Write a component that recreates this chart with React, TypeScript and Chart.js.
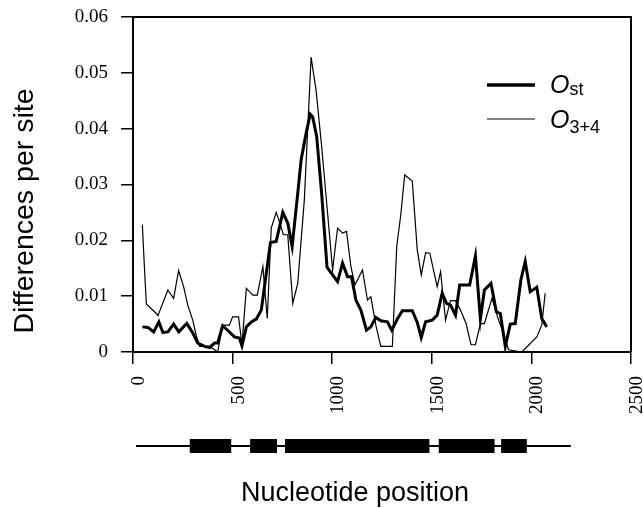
import React, { useEffect, useRef } from 'react';
import { Chart, registerables } from 'chart.js';

Chart.register(...registerables);

// O_st (thick line): nucleotide positions and differences per site
const ostPos = [47, 75, 104, 130, 150, 175, 204, 230, 270, 300, 325, 359, 384, 409, 425, 450, 475, 509, 534, 547, 569, 594, 619, 644, 660, 690, 719, 752, 777, 799, 827, 844, 869, 890, 902, 922, 947, 974, 1002, 1027, 1052, 1077, 1097, 1119, 1144, 1172, 1194, 1219, 1244, 1277, 1299, 1327, 1352, 1402, 1427, 1447, 1469, 1502, 1527, 1552, 1574, 1594, 1619, 1640, 1690, 1719, 1744, 1764, 1797, 1824, 1844, 1869, 1894, 1919, 1947, 1969, 1994, 2027, 2052, 2077];
const ostVal = [0.0045, 0.0044, 0.0036, 0.0054, 0.0035, 0.0036, 0.0050, 0.0036, 0.0051, 0.0034, 0.0016, 0.0010, 0.0008, 0.0016, 0.0016, 0.0047, 0.0039, 0.0027, 0.0025, 0.0011, 0.0045, 0.0054, 0.0059, 0.0075, 0.0117, 0.0196, 0.0198, 0.0250, 0.0231, 0.0189, 0.0284, 0.0344, 0.0392, 0.0426, 0.0421, 0.0386, 0.0284, 0.0152, 0.0138, 0.0126, 0.0159, 0.0135, 0.0135, 0.0093, 0.0075, 0.0039, 0.0045, 0.0062, 0.0056, 0.0054, 0.0039, 0.0059, 0.0074, 0.0074, 0.0053, 0.0026, 0.0054, 0.0057, 0.0066, 0.0105, 0.0087, 0.0084, 0.0066, 0.0120, 0.0120, 0.0172, 0.0059, 0.0111, 0.0123, 0.0072, 0.0069, 0.0010, 0.0050, 0.0051, 0.0129, 0.0162, 0.0108, 0.0116, 0.0060, 0.0045];

// O_3+4 (thin line)
const o34Pos = [47, 55, 67, 117, 125, 175, 204, 229, 254, 275, 300, 317, 335, 385, 410, 425, 450, 484, 500, 530, 547, 569, 602, 624, 652, 674, 694, 719, 735, 755, 777, 802, 827, 860, 880, 894, 919, 947, 977, 1002, 1027, 1052, 1072, 1094, 1114, 1152, 1177, 1194, 1219, 1244, 1302, 1324, 1344, 1364, 1402, 1427, 1447, 1469, 1490, 1527, 1544, 1569, 1594, 1619, 1644, 1672, 1697, 1719, 1744, 1764, 1802, 1835, 1860, 1885, 1952, 2027, 2052, 2069];
const o34Val = [0.0228, 0.0168, 0.0086, 0.0069, 0.0065, 0.0111, 0.0096, 0.0146, 0.0117, 0.0084, 0.0057, 0.0030, 0.0010, 0.0010, 0.0004, 0.0000, 0.0048, 0.0048, 0.0063, 0.0063, 0.0013, 0.0114, 0.0102, 0.0102, 0.0153, 0.0060, 0.0222, 0.0250, 0.0233, 0.0210, 0.0210, 0.0087, 0.0123, 0.0272, 0.0421, 0.0528, 0.0469, 0.0368, 0.0248, 0.0147, 0.0222, 0.0213, 0.0216, 0.0153, 0.0120, 0.0147, 0.0093, 0.0099, 0.0048, 0.0010, 0.0010, 0.0189, 0.0245, 0.0317, 0.0306, 0.0183, 0.0138, 0.0178, 0.0177, 0.0117, 0.0144, 0.0057, 0.0092, 0.0092, 0.0075, 0.0051, 0.0013, 0.0013, 0.0051, 0.0051, 0.0096, 0.0057, 0.0034, 0.0004, 0.0000, 0.0027, 0.0048, 0.0105];

// Gene structure (nucleotide coordinates)
const geneSpan = [15, 2198];
const exonStarts = [285, 588, 763, 1535, 1848];
const exonEnds = [493, 723, 1488, 1815, 1977];

// Axis ticks and texts
const xTicks = [0, 500, 1000, 1500, 2000, 2500];
const yTicks = [0, 0.01, 0.02, 0.03, 0.04, 0.05, 0.06];
const seriesNames = ['O', 'O'];
const seriesSubs = ['st', '3+4'];
const xTitle = 'Nucleotide position';
const yTitle = 'Differences per site';

const SANS = '"Liberation Sans", Arial, sans-serif';
const SERIF = '"Liberation Serif", "Times New Roman", serif';

const overlay = {
  id: 'overlay',
  afterDraw(chart: any) {
    const { ctx, chartArea: a } = chart;
    const x = chart.scales.x;
    ctx.save();
    // frame: top and right
    ctx.strokeStyle = '#000';
    ctx.lineWidth = 2;
    ctx.beginPath();
    ctx.moveTo(a.left, a.top);
    ctx.lineTo(a.right, a.top);
    ctx.lineTo(a.right, a.bottom);
    ctx.stroke();

    // gene diagram
    const gy = 446;
    ctx.lineWidth = 2;
    ctx.beginPath();
    ctx.moveTo(x.getPixelForValue(geneSpan[0]), gy);
    ctx.lineTo(x.getPixelForValue(geneSpan[1]), gy);
    ctx.stroke();
    ctx.fillStyle = '#000';
    exonStarts.forEach((s, i) => {
      const l = x.getPixelForValue(s);
      const r = x.getPixelForValue(exonEnds[i]);
      ctx.fillRect(l, 439, r - l, 14);
    });

    // axis titles
    ctx.fillStyle = '#000';
    ctx.font = `27px ${SANS}`;
    ctx.textAlign = 'center';
    ctx.textBaseline = 'alphabetic';
    ctx.fillText(xTitle, 355, 501);

    ctx.save();
    ctx.translate(33, 211);
    ctx.rotate(-Math.PI / 2);
    ctx.font = `28.5px ${SANS}`;
    ctx.fillText(yTitle, 0, 0);
    ctx.restore();

    // legend
    const rows = [85, 119];
    const widths = [3.5, 1.2];
    const baselines = [93, 128];
    rows.forEach((ry, i) => {
      ctx.strokeStyle = '#000';
      ctx.lineWidth = widths[i];
      ctx.beginPath();
      ctx.moveTo(487, ry);
      ctx.lineTo(535, ry);
      ctx.stroke();
      ctx.textAlign = 'left';
      ctx.fillStyle = '#000';
      ctx.font = `italic 25px ${SANS}`;
      ctx.fillText(seriesNames[i], 550, baselines[i]);
      const w = ctx.measureText(seriesNames[i]).width;
      ctx.font = `18px ${SANS}`;
      ctx.fillText(seriesSubs[i], 550 + w, baselines[i] + (i === 0 ? 2 : 5));
    });
    ctx.restore();
  },
};

export default function App() {
  const ref = useRef<HTMLCanvasElement | null>(null);
  useEffect(() => {
    if (!ref.current) return;
    const chart = new Chart(ref.current, {
      type: 'line',
      data: {
        datasets: [
          {
            label: 'Ost',
            data: ostPos.map((p, i) => ({ x: p, y: ostVal[i] })),
            borderColor: '#000',
            borderWidth: 3,
            pointRadius: 0,
            tension: 0,
          },
          {
            label: 'O3+4',
            data: o34Pos.map((p, i) => ({ x: p, y: o34Val[i] })),
            borderColor: '#000',
            borderWidth: 1.2,
            pointRadius: 0,
            tension: 0,
          },
        ],
      },
      options: {
        responsive: false,
        animation: false,
        layout: { padding: { top: 17, right: 12, left: 0, bottom: 0 } },
        plugins: { legend: { display: false }, tooltip: { enabled: false } },
        scales: {
          x: {
            type: 'linear',
            min: xTicks[0],
            max: xTicks[xTicks.length - 1],
            afterFit: (s: any) => {
              s.height = 156;
              s.paddingLeft = 0;
              s.paddingRight = 0;
            },
            afterBuildTicks: (s: any) => { s.ticks = xTicks.map((v) => ({ value: v })); },
            ticks: {
              minRotation: 90,
              maxRotation: 90,
              autoSkip: false,
              padding: 12,
              labelOffset: 6,
              color: '#000',
              font: { family: SERIF, size: 19 },
              callback: (v: any) => String(v),
            },
            grid: { drawOnChartArea: false, tickLength: 12, color: '#000', lineWidth: 1.5 },
            border: { color: '#000', width: 2 },
          },
          y: {
            min: yTicks[0],
            max: yTicks[yTicks.length - 1],
            afterFit: (s: any) => {
              s.width = 133;
              s.paddingTop = 0;
              s.paddingBottom = 0;
            },
            afterBuildTicks: (s: any) => { s.ticks = yTicks.map((v) => ({ value: v })); },
            ticks: {
              padding: 13,
              color: '#000',
              font: { family: SERIF, size: 19 },
              callback: (v: any) => (v === 0 ? '0' : Number(v).toFixed(2)),
            },
            grid: { drawOnChartArea: false, tickLength: 12, color: '#000', lineWidth: 1.5 },
            border: { color: '#000', width: 2 },
          },
        },
      },
      plugins: [overlay],
    });
    return () => chart.destroy();
  }, []);
  return (
    <div style={{ position: 'fixed', left: 0, top: 0, width: 643, height: 508, background: '#fff' }}>
      <canvas ref={ref} width={643} height={508} style={{ display: 'block' }} />
    </div>
  );
}
